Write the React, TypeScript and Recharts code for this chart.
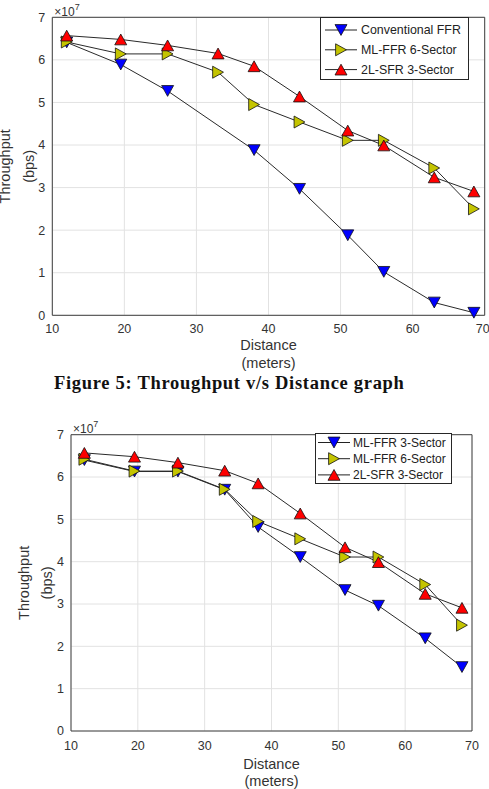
import React from 'react';
import {
  LineChart, Line, XAxis, YAxis, CartesianGrid, Legend, ReferenceArea, Label
} from 'recharts';

// distance (meters) where each throughput sample was taken
const distance = [12, 19.5, 26, 33, 38, 44.3, 51, 56, 63, 68.5];

// throughput in units of 1e7 bps
const conventionalFfr = [6.41, 5.89, 5.27, null, 3.88, 2.97, 1.88, 1.02, 0.3, 0.06];
const mlFfr3Sector = [6.4, 6.13, 6.13, 5.7, 4.82, 4.11, 3.33, 2.96, 2.19, 1.51];
const mlFfr6Sector = [6.42, 6.14, 6.14, 5.71, 4.95, 4.54, 4.11, 4.11, 3.46, 2.5];
const sfr2l3Sector = [6.57, 6.48, 6.34, 6.15, 5.85, 5.14, 4.34, 3.99, 3.24, 2.91];

const xTicks = [10, 20, 30, 40, 50, 60, 70];
const yTicks = [0, 1, 2, 3, 4, 5, 6, 7];

const SANS = '"Liberation Sans", Arial, sans-serif';
const TEXT = '#333';

type Shape = 'down' | 'right' | 'up';

interface SeriesDef {
  key: string;
  name: string;
  values: (number | null)[];
  fill: string;
  shape: Shape;
}

const conventionalDef: SeriesDef = { key: 'conv', name: 'Conventional FFR', values: conventionalFfr, fill: '#0000ff', shape: 'down' };
const ml3Def: SeriesDef = { key: 'ml3', name: 'ML-FFR 3-Sector', values: mlFfr3Sector, fill: '#0000ff', shape: 'down' };
const ml6Def: SeriesDef = { key: 'ml6', name: 'ML-FFR 6-Sector', values: mlFfr6Sector, fill: '#c4c400', shape: 'right' };
const sfrDef: SeriesDef = { key: 'sfr', name: '2L-SFR 3-Sector', values: sfr2l3Sector, fill: '#ff0000', shape: 'up' };

const trianglePoints = (shape: Shape, cx: number, cy: number, r: number) => {
  const h = r * 0.9;
  if (shape === 'down') return `${cx - r},${cy - h} ${cx + r},${cy - h} ${cx},${cy + h}`;
  if (shape === 'up') return `${cx - r},${cy + h} ${cx + r},${cy + h} ${cx},${cy - h}`;
  return `${cx - h},${cy - r} ${cx - h},${cy + r} ${cx + h},${cy}`;
};

const Marker = ({ cx, cy, shape, fill }: { cx: number; cy: number; shape: Shape; fill: string }) => (
  <polygon points={trianglePoints(shape, cx, cy, 6)} fill={fill} stroke="#111" strokeWidth={0.8} />
);

const buildRows = (series: SeriesDef[]) =>
  distance.map((d, i) => {
    const row: Record<string, number | null> = { distance: d };
    series.forEach((s) => { row[s.key] = s.values[i]; });
    return row;
  });

interface ChartProps {
  series: SeriesDef[];
  width: number;
  height: number;
  margin: { top: number; right: number; bottom: number; left: number };
  tickGap: number;
  xLabelDy: [number, number];
  yLabelDx: [number, number];
  expDy: number;
  legend: { left: number; top: number; width: number; height: number; rowTop: number; rowGap: number; lineX: [number, number]; textX: number; fontSize: number };
}

const ThroughputChart = ({ series, width, height, margin, tickGap, xLabelDy, yLabelDx, expDy, legend }: ChartProps) => {
  const data = buildRows(series);

  const renderLegend = () => (
    <svg width={legend.width} height={legend.height} style={{ display: 'block' }}>
      <rect x={0.5} y={0.5} width={legend.width - 1} height={legend.height - 1} fill="#fff" stroke="#262626" strokeWidth={1} />
      {series.map((s, i) => {
        const y = legend.rowTop + i * legend.rowGap;
        const mid = (legend.lineX[0] + legend.lineX[1]) / 2;
        return (
          <g key={s.key}>
            <line x1={legend.lineX[0]} x2={legend.lineX[1]} y1={y} y2={y} stroke="#222" strokeWidth={1} />
            <Marker cx={mid} cy={y} shape={s.shape} fill={s.fill} />
            <text x={legend.textX} y={y} dominantBaseline="central" fontFamily={SANS} fontSize={legend.fontSize} fill="#222">
              {s.name}
            </text>
          </g>
        );
      })}
    </svg>
  );

  return (
    <LineChart width={width} height={height} data={data} margin={margin}>
      <CartesianGrid stroke="#e2e2e2" strokeWidth={1} />
      <XAxis
        dataKey="distance"
        type="number"
        domain={[10, 70]}
        ticks={xTicks}
        height={30}
        axisLine={false}
        tickLine={false}
        tickSize={0}
        tickMargin={tickGap}
        tick={{ fill: TEXT, fontSize: 12.5, fontFamily: SANS }}
      >
        <Label
          content={({ viewBox }: any) => {
            const cx = viewBox.x + viewBox.width / 2;
            return (
              <text fontFamily={SANS} fontSize={14.5} fill={TEXT} textAnchor="middle" dominantBaseline="central">
                <tspan x={cx} y={viewBox.y + xLabelDy[0]}>Distance</tspan>
                <tspan x={cx} y={viewBox.y + xLabelDy[1]}>(meters)</tspan>
              </text>
            );
          }}
        />
      </XAxis>
      <YAxis
        type="number"
        domain={[0, 7]}
        ticks={yTicks}
        width={40}
        axisLine={false}
        tickLine={false}
        tickSize={0}
        tickMargin={7}
        tick={{ fill: TEXT, fontSize: 12.5, fontFamily: SANS }}
      >
        <Label
          content={({ viewBox }: any) => {
            const ax = viewBox.x + viewBox.width;
            const cy = viewBox.y + viewBox.height / 2;
            return (
              <g>
                <text x={ax - yLabelDx[0]} y={cy} transform={`rotate(-90 ${ax - yLabelDx[0]} ${cy})`} fontFamily={SANS} fontSize={14.5} fill={TEXT} textAnchor="middle" dominantBaseline="central">
                  Throughput
                </text>
                <text x={ax - yLabelDx[1]} y={cy} transform={`rotate(-90 ${ax - yLabelDx[1]} ${cy})`} fontFamily={SANS} fontSize={14.5} fill={TEXT} textAnchor="middle" dominantBaseline="central">
                  (bps)
                </text>
                <text x={ax + 2} y={viewBox.y - expDy} fontFamily={SANS} fontSize={12} fill={TEXT}>
                  ×10<tspan fontSize={9} dy={-6}>7</tspan>
                </text>
              </g>
            );
          }}
        />
      </YAxis>
      <ReferenceArea x1={10} x2={70} y1={0} y2={7} fill="none" stroke="#404040" strokeWidth={1} />
      {series.map((s) => (
        <Line
          key={s.key}
          dataKey={s.key}
          name={s.name}
          stroke="#2a2a2a"
          strokeWidth={1}
          connectNulls
          isAnimationActive={false}
          dot={(p: any) =>
            p.cy == null || p.value == null ? <g key={`${s.key}-${p.index}`} /> : (
              <Marker key={`${s.key}-${p.index}`} cx={p.cx} cy={p.cy} shape={s.shape} fill={s.fill} />
            )
          }
          activeDot={false}
        />
      ))}
      <Legend
        layout="vertical"
        align="center"
        verticalAlign="middle"
        content={renderLegend}
        wrapperStyle={{ left: legend.left, top: legend.top, width: legend.width, height: legend.height }}
      />
    </LineChart>
  );
};

export default function App() {
  return (
    <div style={{ position: 'absolute', left: 0, top: 0, width: 489, height: 789, background: '#fff', overflow: 'hidden' }}>
      <div style={{ position: 'absolute', left: 0, top: 0 }}>
        <ThroughputChart
          series={[conventionalDef, ml6Def, sfrDef]}
          width={489}
          height={372}
          margin={{ top: 17.3, right: 4.3, bottom: 26.7, left: 12.3 }}
          tickGap={8.7}
          xLabelDy={[29.7, 47.7]}
          yLabelDx={[47, 23.5]}
          expDy={1.8}
          legend={{ left: 320, top: 17, width: 149, height: 63, rowTop: 13, rowGap: 19.8, lineX: [5, 37], textX: 41, fontSize: 12.4 }}
        />
      </div>
      <div
        style={{
          position: 'absolute', left: 54, top: 372, fontFamily: '"Liberation Serif", "Times New Roman", serif',
          fontWeight: 'bold', fontSize: 18.5, letterSpacing: 0.7, lineHeight: '22px', color: '#111', whiteSpace: 'nowrap'
        }}
      >
        Figure 5: Throughput v/s Distance graph
      </div>
      <div style={{ position: 'absolute', left: 0, top: 410 }}>
        <ThroughputChart
          series={[ml3Def, ml6Def, sfrDef]}
          width={489}
          height={379}
          margin={{ top: 24.7, right: 17, bottom: 28, left: 31 }}
          tickGap={10}
          xLabelDy={[32.5, 50]}
          yLabelDx={[47, 24]}
          expDy={1.3}
          legend={{ left: 315, top: 23, width: 137, height: 51, rowTop: 9.5, rowGap: 16.2, lineX: [3, 35], textX: 38, fontSize: 12 }}
        />
      </div>
    </div>
  );
}
